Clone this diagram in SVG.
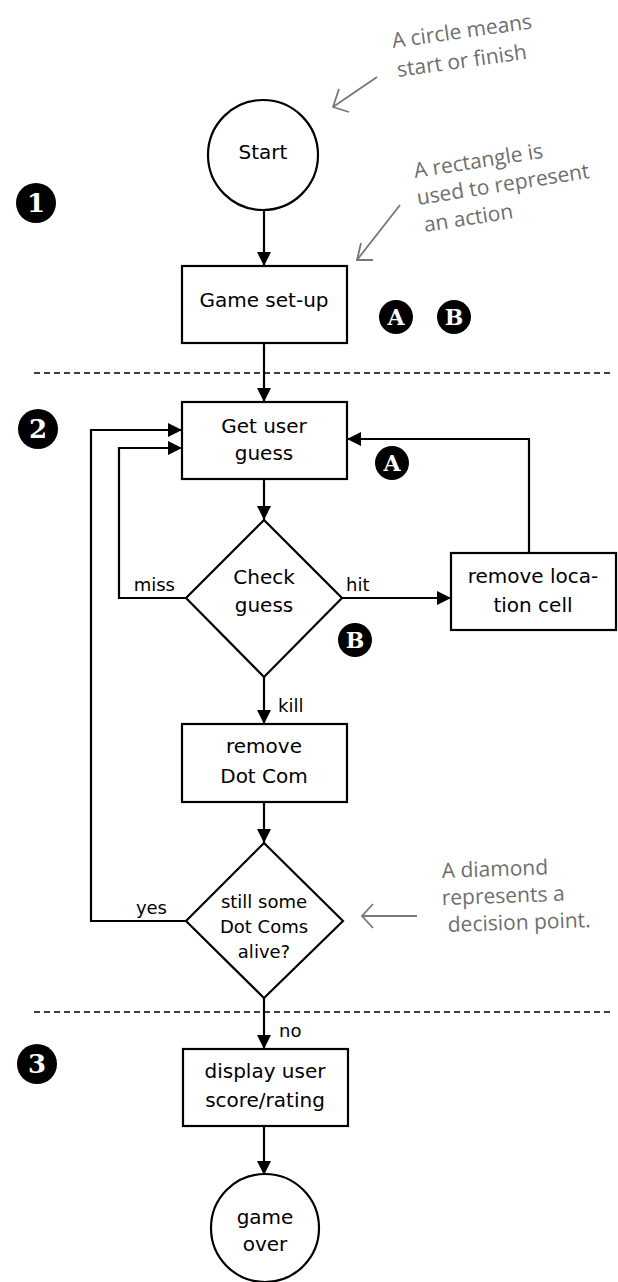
<svg xmlns="http://www.w3.org/2000/svg" width="618" height="1282" viewBox="0 0 618 1282">
<defs>
<marker id="arr" markerUnits="userSpaceOnUse" markerWidth="14" markerHeight="14" refX="14" refY="7" orient="auto">
<path d="M0,0 L14,7 L0,14 z" fill="#000"/>
</marker>
<style>
.node{fill:#fff;stroke:#000;stroke-width:2.2}
.t{font-family:"DejaVu Sans","Noto Sans",sans-serif;font-size:20px;fill:#000;text-anchor:middle}
.t2{font-family:"DejaVu Sans","Noto Sans",sans-serif;font-size:18px;fill:#000;text-anchor:middle}
.lbl{font-family:"DejaVu Sans","Noto Sans",sans-serif;font-size:18px;fill:#000}
.con{fill:none;stroke:#000;stroke-width:2.2}
.dash{fill:none;stroke:#000;stroke-width:1.5;stroke-dasharray:6 4}
.note{font-family:"Open Sans","DejaVu Sans",sans-serif;font-size:21px;fill:#6e6e6e}
.narr{fill:none;stroke:#777;stroke-width:1.8}
.badge{fill:#000}
.bt{font-family:"DejaVu Serif","Liberation Serif",serif;font-weight:bold;fill:#fff;text-anchor:middle}
</style>
</defs>

<!-- separators -->
<line class="dash" x1="34" y1="373" x2="612" y2="373"/>
<line class="dash" x1="34" y1="1012" x2="612" y2="1012"/>

<!-- connectors -->
<g id="connectors">
<line class="con" x1="264" y1="210" x2="264" y2="266" marker-end="url(#arr)"/>
<line class="con" x1="264" y1="343" x2="264" y2="402" marker-end="url(#arr)"/>
<line class="con" x1="264" y1="479" x2="264" y2="520" marker-end="url(#arr)"/>
<line class="con" x1="342" y1="598" x2="451" y2="598" marker-end="url(#arr)"/>
<polyline class="con" points="529,553 529,439 347,439" marker-end="url(#arr)"/>
<polyline class="con" points="186,598 119,598 119,448 182,448" marker-end="url(#arr)"/>
<line class="con" x1="264" y1="677" x2="264" y2="724" marker-end="url(#arr)"/>
<line class="con" x1="264" y1="802" x2="264" y2="843" marker-end="url(#arr)"/>
<polyline class="con" points="186,921 91,921 91,430 182,430" marker-end="url(#arr)"/>
<line class="con" x1="264" y1="998" x2="264" y2="1049" marker-end="url(#arr)"/>
<line class="con" x1="264" y1="1126" x2="264" y2="1175" marker-end="url(#arr)"/>
<text class="lbl" x="175" y="591" text-anchor="end">miss</text>
<text class="lbl" x="346" y="591">hit</text>
<text class="lbl" x="278" y="712">kill</text>
<text class="lbl" x="167" y="914" text-anchor="end">yes</text>
<text class="lbl" x="279" y="1037">no</text>
</g>

<!-- nodes -->
<g id="start">
<circle class="node" cx="263" cy="155" r="55"/>
<text class="t" x="263" y="159">Start</text>
</g>
<g id="setup">
<rect class="node" x="182" y="266" width="165" height="77"/>
<text class="t" x="264" y="307">Game set-up</text>
</g>
<g id="getguess">
<rect class="node" x="182" y="402" width="165" height="77"/>
<text class="t" x="264" y="433">Get user</text>
<text class="t" x="264" y="460">guess</text>
</g>
<g id="checkguess">
<polygon class="node" points="264,520 342,598 264,677 186,598"/>
<text class="t" x="264" y="584">Check</text>
<text class="t" x="264" y="612">guess</text>
</g>
<g id="removecell">
<rect class="node" x="451" y="553" width="165" height="77"/>
<text class="t" x="533" y="583">remove loca-</text>
<text class="t" x="533" y="612">tion cell</text>
</g>
<g id="removedotcom">
<rect class="node" x="182" y="724" width="165" height="78"/>
<text class="t" x="264" y="753">remove</text>
<text class="t" x="264" y="783">Dot Com</text>
</g>
<g id="alive">
<polygon class="node" points="264,843 343,921 264,998 186,921"/>
<text class="t2" x="264" y="908">still some</text>
<text class="t2" x="264" y="933">Dot Coms</text>
<text class="t2" x="264" y="958">alive?</text>
</g>
<g id="display">
<rect class="node" x="183" y="1049" width="165" height="77"/>
<text class="t" x="265" y="1078">display user</text>
<text class="t" x="265" y="1107">score/rating</text>
</g>
<g id="gameover">
<circle class="node" cx="265" cy="1228" r="54"/>
<text class="t" x="265" y="1224">game</text>
<text class="t" x="265" y="1251">over</text>
</g>

<!-- badges -->
<g id="badge1"><circle class="badge" cx="36" cy="203" r="20"/><text class="bt" x="36" y="212" font-size="26">1</text></g>
<g id="badge2"><circle class="badge" cx="38" cy="429" r="20"/><text class="bt" x="38" y="438" font-size="26">2</text></g>
<g id="badge3"><circle class="badge" cx="37" cy="1064" r="20"/><text class="bt" x="37" y="1073" font-size="26">3</text></g>
<g id="badgeA1"><circle class="badge" cx="396" cy="317" r="17"/><text class="bt" x="396" y="325" font-size="22">A</text></g>
<g id="badgeB1"><circle class="badge" cx="454" cy="317" r="17"/><text class="bt" x="454" y="325" font-size="22">B</text></g>
<g id="badgeA2"><circle class="badge" cx="392" cy="463" r="17"/><text class="bt" x="392" y="471" font-size="22">A</text></g>
<g id="badgeB2"><circle class="badge" cx="355" cy="640" r="17"/><text class="bt" x="355" y="648" font-size="22">B</text></g>

<!-- annotations -->
<g id="note-circle">
<text class="note" transform="translate(393,48) rotate(-8)">A circle means</text>
<text class="note" transform="translate(398,77) rotate(-8)">start or finish</text>
<line class="narr" x1="377" y1="77" x2="333" y2="107"/>
<polyline class="narr" points="339,89 333,107 349,112"/>
</g>
<g id="note-rect">
<text class="note" transform="translate(415,178) rotate(-9)">A rectangle is</text>
<text class="note" transform="translate(418,205) rotate(-9)">used to represent</text>
<text class="note" transform="translate(425,232) rotate(-9)">an action</text>
<line class="narr" x1="400" y1="205" x2="357" y2="260"/>
<polyline class="narr" points="361,243 357,260 373,260"/>
</g>
<g id="note-diamond">
<text class="note" transform="translate(442,878) rotate(-2)">A diamond</text>
<text class="note" transform="translate(442,905) rotate(-2)">represents a</text>
<text class="note" transform="translate(448,932) rotate(-2)">decision point.</text>
<line class="narr" x1="417" y1="916" x2="362" y2="916"/>
<polyline class="narr" points="373,904 362,916 373,928"/>
</g>
</svg>
